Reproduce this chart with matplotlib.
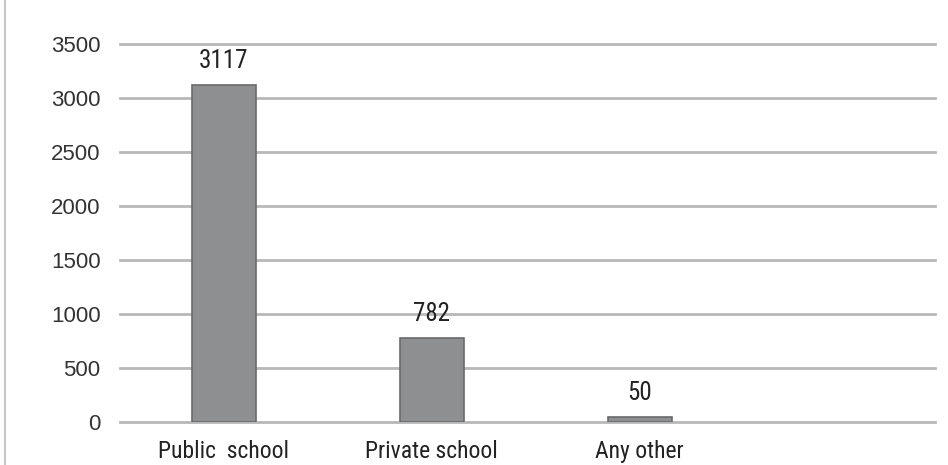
import matplotlib.pyplot as plt
from matplotlib import font_manager

categories = ["Public  school", "Private school", "Any other"]
counts = [3117, 782, 50]
yticks = [0, 500, 1000, 1500, 2000, 2500, 3000, 3500]

plt.rcParams["font.family"] = ["Liberation Sans", "DejaVu Sans"]

# condensed face for category and value labels, when one is installed
installed = {f.name for f in font_manager.fontManager.ttflist}
narrow = "Liberation Sans"
for cand in ["Liberation Sans Narrow", "Roboto Condensed", "Open Sans Condensed", "DejaVu Sans Condensed"]:
    if cand in installed:
        narrow = cand
        break

fig = plt.figure(figsize=(9.48, 4.65), dpi=100)
ax = fig.add_axes([120 / 948, 1 - 422 / 465, (935 - 120) / 948, (422 - 44) / 465])

xs = list(range(len(categories)))
bars = ax.bar(xs, counts, width=0.31, color="#8e8f91",
              edgecolor="#6a6a6a", linewidth=1.2, zorder=3)

for b, v in zip(bars, counts):
    ax.text(b.get_x() + b.get_width() / 2, v + 110, str(v), ha="center", va="bottom",
            fontsize=18, family=narrow, color="#222222", zorder=4)

# one empty slot on the right of the category axis
ax.set_ylim(0, 3500)
ax.set_xlim(-0.5, 3.42)
ax.set_yticks(yticks)
ax.set_yticklabels([str(t) for t in yticks], fontsize=16, color="#333333")
ax.set_xticks(xs)
ax.set_xticklabels(categories, fontsize=17, family=narrow, color="#222222")
ax.tick_params(axis="both", length=0)
ax.tick_params(axis="y", pad=14)
ax.tick_params(axis="x", pad=13)

ax.grid(axis="y", color="#b8b8b8", linewidth=2, zorder=0)
for line in ax.get_ygridlines():
    line.set_clip_on(False)
for s in ax.spines.values():
    s.set_visible(False)

# thin frame line at the left edge of the figure
fig.add_artist(plt.Line2D([5 / 948, 5 / 948], [0, 1], color="#c8c8c8", linewidth=1.5))

fig.savefig("out.png", dpi=100)
